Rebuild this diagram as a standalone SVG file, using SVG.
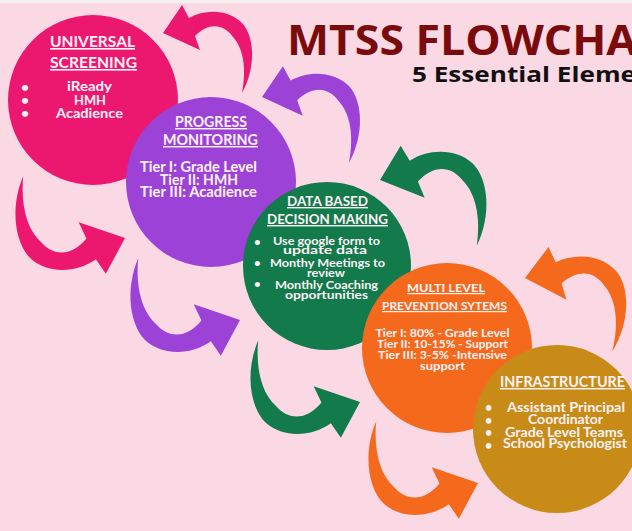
<svg xmlns="http://www.w3.org/2000/svg" width="632" height="531" viewBox="0 0 632 531">
  <defs>
    <!-- curved arrow, tip at origin pointing left, tail trailing down-right -->
    <path id="curl" d="M0,0 L19,-28 L26,-15 C42,-24 65,-24 79,-10 C92,4 93,35 79,60 C84,35 80,15 70,4 C60,-10 45,-10 32,3 L37,17 Z"/>
  </defs>
  <style>
    text { font-family: Lato, "Liberation Sans", sans-serif; font-weight: bold; fill: #fdf2f6; }
    .hd { text-anchor: middle; text-decoration: underline; }
    .tx { text-anchor: middle; }
    .ttl { font-family: "Open Sans", "Noto Sans", sans-serif; }
  </style>

  <rect x="0" y="0" width="632" height="531" fill="#fad8e4"/>
  <rect x="0" y="0" width="632" height="3" fill="#f4f1f2"/>

  <!-- title -->
  <text class="ttl" x="287" y="55" font-size="42" style="fill:#7a0b0d" textLength="350" lengthAdjust="spacingAndGlyphs">MTSS FLOWCHA</text>
  <text class="ttl" x="412" y="82" font-size="22" style="fill:#111111" textLength="224" lengthAdjust="spacingAndGlyphs">5 Essential Eleme</text>

  <!-- connectors -->
  <g id="connectors">
    <use href="#curl" transform="translate(163,33)" fill="#ec186f"/>
    <use href="#curl" transform="translate(262,97) scale(1.1)" fill="#9d42d6"/>
    <use href="#curl" transform="translate(380,180) rotate(-3) scale(1.18)" fill="#127a4b"/>
    <use href="#curl" transform="translate(525,278) rotate(3) scale(1.15)" fill="#f5691d"/>
    <use href="#curl" transform="translate(125,238) rotate(174) scale(1.2)" fill="#ec186f"/>
    <use href="#curl" transform="translate(240,320) rotate(174) scale(1.2)" fill="#9d42d6"/>
    <use href="#curl" transform="translate(360,402) rotate(174) scale(1.2)" fill="#127a4b"/>
    <use href="#curl" transform="translate(478,483) rotate(174) scale(1.2)" fill="#f5691d"/>
  </g>

  <g id="universal-screening">
    <circle cx="93" cy="100" r="85" fill="#ec186f"/>
    <text class="hd" x="92.5" y="47" font-size="16" textLength="85" lengthAdjust="spacingAndGlyphs">UNIVERSAL</text>
    <text class="hd" x="93.5" y="68" font-size="16" textLength="87" lengthAdjust="spacingAndGlyphs">SCREENING</text>
    <g font-size="14">
      <text x="21" y="92">•</text>
      <text x="21" y="105">•</text>
      <text x="21" y="118">•</text>
      <text class="tx" x="89.5" y="91" textLength="45" lengthAdjust="spacingAndGlyphs">iReady</text>
      <text class="tx" x="90" y="105" textLength="32" lengthAdjust="spacingAndGlyphs">HMH</text>
      <text class="tx" x="89.5" y="118" textLength="67" lengthAdjust="spacingAndGlyphs">Acadience</text>
    </g>
  </g>

  <g id="progress-monitoring">
    <circle cx="211" cy="182" r="85" fill="#9d42d6"/>
    <text class="hd" x="211" y="127" font-size="14.5" textLength="72" lengthAdjust="spacingAndGlyphs">PROGRESS</text>
    <text class="hd" x="210.5" y="145" font-size="14.5" textLength="95" lengthAdjust="spacingAndGlyphs">MONITORING</text>
    <g font-size="14.5">
      <text class="tx" x="198.5" y="172" textLength="117" lengthAdjust="spacingAndGlyphs">Tier I: Grade Level</text>
      <text class="tx" x="199" y="185" textLength="78" lengthAdjust="spacingAndGlyphs">Tier II: HMH</text>
      <text class="tx" x="198.5" y="197" textLength="117" lengthAdjust="spacingAndGlyphs">Tier III: Acadience</text>
    </g>
  </g>

  <g id="data-based-decision-making">
    <circle cx="327" cy="266" r="84" fill="#127a4b"/>
    <text class="hd" x="327.5" y="206" font-size="14" textLength="81" lengthAdjust="spacingAndGlyphs">DATA BASED</text>
    <text class="hd" x="327.5" y="224" font-size="14" textLength="121" lengthAdjust="spacingAndGlyphs">DECISION MAKING</text>
    <g font-size="11.5">
      <text x="254" y="246">•</text>
      <text x="254" y="267">•</text>
      <text x="254" y="288">•</text>
      <text class="tx" x="326.5" y="245" textLength="107" lengthAdjust="spacingAndGlyphs">Use google form to</text>
      <text class="tx" x="325" y="254" textLength="84" lengthAdjust="spacingAndGlyphs">update data</text>
      <text class="tx" x="327.5" y="267" textLength="115" lengthAdjust="spacingAndGlyphs">Monthy Meetings to</text>
      <text class="tx" x="326" y="277" textLength="38" lengthAdjust="spacingAndGlyphs">review</text>
      <text class="tx" x="326.5" y="289" textLength="103" lengthAdjust="spacingAndGlyphs">Monthly Coaching</text>
      <text class="tx" x="326.5" y="299" textLength="83" lengthAdjust="spacingAndGlyphs">opportunities</text>
    </g>
  </g>

  <g id="multi-level-prevention">
    <circle cx="447" cy="348" r="85" fill="#f5691d"/>
    <text class="hd" x="446" y="292" font-size="12" textLength="78" lengthAdjust="spacingAndGlyphs">MULTI LEVEL</text>
    <text class="hd" x="444.5" y="310" font-size="12" textLength="125" lengthAdjust="spacingAndGlyphs">PREVENTION SYTEMS</text>
    <g font-size="12">
      <text class="tx" x="442.5" y="337" textLength="134" lengthAdjust="spacingAndGlyphs">Tier I: 80% - Grade Level</text>
      <text class="tx" x="442.5" y="348" textLength="131" lengthAdjust="spacingAndGlyphs">Tier II: 10-15% - Support</text>
      <text class="tx" x="442.5" y="359" textLength="129" lengthAdjust="spacingAndGlyphs">Tier III: 3-5% -Intensive</text>
      <text class="tx" x="442.5" y="370" textLength="45" lengthAdjust="spacingAndGlyphs">support</text>
    </g>
  </g>

  <g id="infrastructure">
    <circle cx="557" cy="429" r="84" fill="#c88b17"/>
    <text class="hd" x="562.5" y="387" font-size="14.5" textLength="125" lengthAdjust="spacingAndGlyphs">INFRASTRUCTURE</text>
    <g font-size="12.5">
      <text x="485" y="412">•</text>
      <text x="485" y="425">•</text>
      <text x="485" y="437">•</text>
      <text x="485" y="450">•</text>
      <text class="tx" x="566" y="412" textLength="118" lengthAdjust="spacingAndGlyphs">Assistant Principal</text>
      <text class="tx" x="565.5" y="424" textLength="75" lengthAdjust="spacingAndGlyphs">Coordinator</text>
      <text class="tx" x="564" y="437" textLength="118" lengthAdjust="spacingAndGlyphs">Grade Level Teams</text>
      <text class="tx" x="565" y="448" textLength="124" lengthAdjust="spacingAndGlyphs">School Psychologist</text>
    </g>
  </g>
</svg>
